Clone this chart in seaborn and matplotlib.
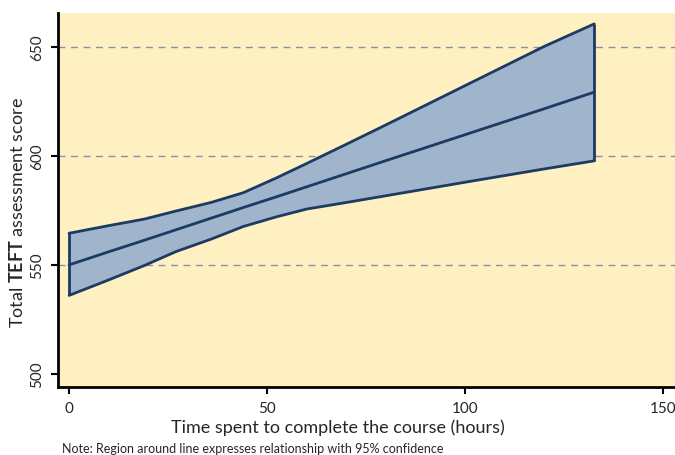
import matplotlib
matplotlib.use("Agg")
import matplotlib.pyplot as plt
import seaborn as sns
import pandas as pd

# Data
hours = [0, 10, 19, 27, 36, 44, 52.5, 60, 70, 80, 100, 120, 132.6]
fit = [550.0, 556.0, 561.3, 566.1, 571.5, 576.3, 581.3, 585.8, 591.8, 597.8, 609.7, 621.6, 629.2]
upper = [564.5, 568.0, 571.0, 574.7, 578.7, 583.1, 590.0, 596.5, 605.3, 614.2, 632.2, 650.2, 660.5]
lower = [536.0, 543.1, 549.7, 556.1, 561.9, 567.6, 572.1, 575.6, 578.6, 581.7, 587.9, 594.0, 597.7]

yticks = [500, 550, 600, 650]
xticks = [0, 50, 100, 150]
grid_levels = [550, 600, 650]

df = pd.DataFrame({"hours": hours, "fit": fit, "upper": upper, "lower": lower})

sns.set_theme(style="white")
plt.rcParams["font.family"] = ["Lato", "DejaVu Sans"]
plt.rcParams["mathtext.fontset"] = "custom"
plt.rcParams["mathtext.rm"] = "Lato"
plt.rcParams["mathtext.bf"] = "Lato:bold"

navy = "#1c3a63"
fill_c = "#a0b4cc"
bg = "#fff0c2"

W, H = 675, 456
fig = plt.figure(figsize=(W / 100, H / 100), dpi=100)
ax = fig.add_axes([58 / W, (H - 388) / H, 1 - 58 / W, (388 - 14) / H])
ax.set_facecolor(bg)

for g in grid_levels:
    ax.axhline(g, color="#8a8fae", lw=1.0, ls=(0, (5, 4)), zorder=0)

ax.fill_between(df["hours"], df["lower"], df["upper"], color=fill_c, zorder=1, lw=0)
for col in ["upper", "lower", "fit"]:
    sns.lineplot(data=df, x="hours", y=col, ax=ax, color=navy, lw=2, zorder=3)
# vertical edges of band
ax.vlines([hours[0], hours[-1]], [lower[0], lower[-1]], [upper[0], upper[-1]],
          color=navy, lw=2, zorder=3)

ax.set_xlim(-2.8, 153)
ax.set_ylim(494, 665.5)
ax.set_xticks(xticks)
ax.set_yticks(yticks)
ax.set_xticklabels([str(t) for t in xticks], fontsize=11)
ax.set_yticklabels([str(t) for t in yticks], fontsize=11, rotation=90, va="center")

for s in ["top", "right"]:
    ax.spines[s].set_visible(False)
for s in ["left", "bottom"]:
    ax.spines[s].set_color("black")
    ax.spines[s].set_linewidth(2)
ax.tick_params(axis="both", which="both", direction="out", length=5, width=1.5,
               color="black", pad=5, bottom=True, left=True)

ax.set_xlabel("Time spent to complete the course (hours)", fontsize=13)
ax.xaxis.set_label_coords(0.454, (388 - 419) / 374)
ax.set_ylabel(r"Total $\mathbf{TEFT}$ assessment score", fontsize=13)
ax.yaxis.set_label_coords((26 - 58) / 617, (388 - 213) / 374)

fig.text(62 / W, 1 - 449 / H, "Note: Region around line expresses relationship with 95% confidence",
         fontsize=9, va="center", ha="left")

fig.savefig("out.png", dpi=100)
